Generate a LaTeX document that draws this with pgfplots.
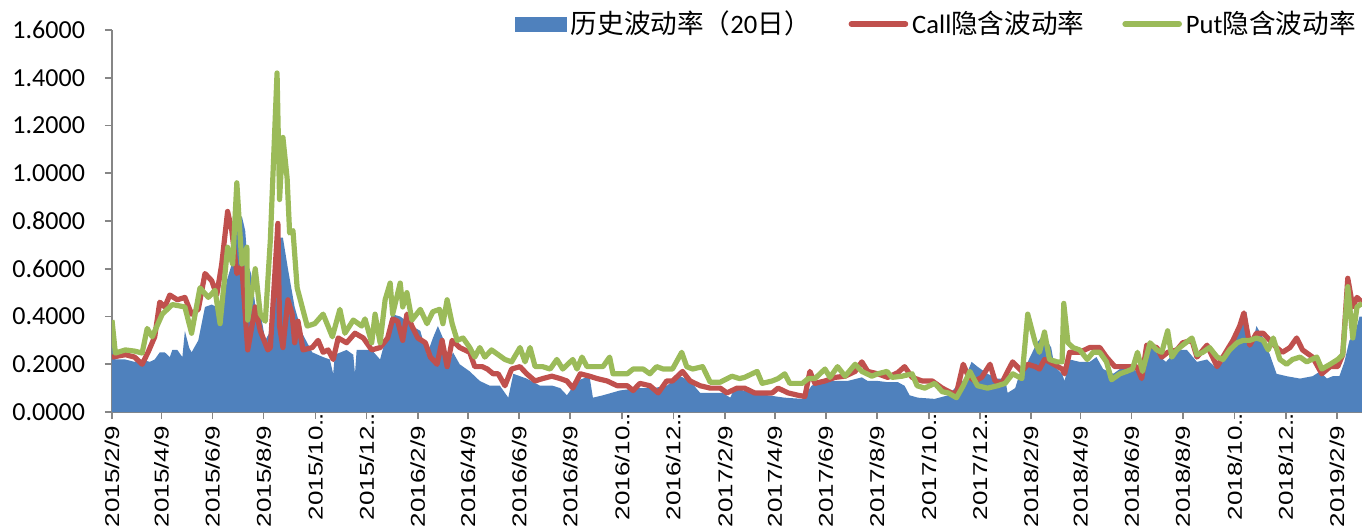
\documentclass[border=0pt]{standalone}
\usepackage{fontspec}
\setmainfont{Carlito}
\newfontfamily\cjk{Noto Sans CJK SC}
\newfontfamily\xfont[FakeStretch=1.3]{Liberation Sans}
\usepackage{pgfplots}
\pgfplotsset{compat=1.18}
\definecolor{hvcol}{HTML}{4F81BD}
\definecolor{callcol}{HTML}{C0504D}
\definecolor{putcol}{HTML}{9BBB59}
\definecolor{axcol}{HTML}{868686}
\newcommand{\el}{\rlap{.\kern-0.08em.\kern-0.08em.}}
\begin{document}
\begin{tikzpicture}
\begin{axis}[name=ax, scale only axis, width=625pt, height=191pt,
  xmin=0, xmax=1492, ymin=0, ymax=1.6,
  axis x line=bottom, axis y line=left,
  axis line style={-, axcol, line width=0.8pt},
  ytick={0,0.2,0.4,0.6,0.8,1.0,1.2,1.4,1.6},
  yticklabel style={font=\fontsize{13}{15}\selectfont, xshift=-6.5pt, /pgf/number format/.cd, fixed, fixed zerofill, precision=4, assume math mode=true},
  xtick={0,59,120,181,243,304,365,425,486,547,609,670,732,791,852,913,975,1036,1097,1156,1217,1278,1340,1401,1462},
  xticklabels={2015/2/9,2015/4/9,2015/6/9,2015/8/9,2015/10\el,2015/12\el,2016/2/9,2016/4/9,2016/6/9,2016/8/9,2016/10\el,2016/12\el,2017/2/9,2017/4/9,2017/6/9,2017/8/9,2017/10\el,2017/12\el,2018/2/9,2018/4/9,2018/6/9,2018/8/9,2018/10\el,2018/12\el,2019/2/9},
  xticklabel style={rotate=90, anchor=east, font=\xfont\fontsize{10}{12}\selectfont},
  tick align=outside, major tick length=3.5pt, tick style={axcol, line width=0.8pt},
  legend columns=3,
  legend style={at={(1,1)}, anchor=east, yshift=3pt, xshift=-1pt, draw=none, fill=none,
    font=\fontsize{13.3}{15}\selectfont, inner sep=0pt,
    /tikz/every even column/.append style={column sep=17pt},
    nodes={inner xsep=2pt}},
  legend cell align=left,
]
\addplot[fill=hvcol, draw=none, area legend,
  legend image code/.code={\fill[hvcol] (0pt,-3.75pt) rectangle (26pt,3.75pt);}] table {
0 0.28
4 0.22
16 0.22
27 0.21
36 0.22
45 0.21
51 0.22
57 0.25
63 0.25
69 0.23
72 0.26
78 0.26
84 0.23
87 0.34
92 0.27
95 0.25
103 0.30
111 0.44
119 0.45
125 0.44
131 0.40
137 0.55
143 0.62
149 0.79
155 0.82
159 0.76
162 0.62
166 0.58
171 0.45
177 0.42
183 0.30
189 0.34
195 0.73
204 0.73
210 0.60
218 0.44
227 0.33
239 0.25
252 0.23
260 0.22
264 0.16
266 0.24
280 0.26
288 0.24
290 0.16
292 0.26
310 0.26
320 0.22
326 0.30
334 0.41
344 0.40
352 0.38
358 0.36
368 0.34
376 0.24
383 0.31
389 0.36
395 0.31
401 0.19
407 0.25
415 0.20
427 0.17
439 0.13
451 0.11
463 0.11
473 0.06
479 0.16
495 0.14
511 0.11
526 0.11
535 0.10
543 0.07
555 0.13
562 0.14
570 0.15
574 0.06
586 0.07
606 0.09
627 0.10
646 0.10
662 0.11
678 0.15
690 0.13
702 0.08
717 0.08
729 0.08
738 0.06
743 0.10
764 0.08
783 0.07
803 0.06
824 0.055
835 0.11
847 0.13
863 0.13
878 0.13
895 0.145
902 0.13
914 0.13
926 0.125
938 0.125
946 0.11
952 0.07
962 0.06
982 0.055
998 0.07
1006 0.10
1018 0.14
1026 0.21
1033 0.19
1045 0.16
1057 0.14
1066 0.14
1069 0.08
1078 0.10
1086 0.19
1093 0.21
1104 0.29
1111 0.32
1116 0.30
1121 0.27
1125 0.19
1134 0.16
1137 0.13
1143 0.22
1155 0.21
1167 0.21
1175 0.23
1183 0.18
1195 0.16
1203 0.18
1215 0.19
1227 0.16
1239 0.28
1251 0.23
1258 0.21
1271 0.26
1283 0.26
1295 0.21
1307 0.22
1319 0.18
1331 0.23
1338 0.31
1346 0.38
1354 0.42
1360 0.27
1366 0.36
1374 0.31
1382 0.24
1390 0.16
1402 0.15
1418 0.14
1433 0.15
1442 0.17
1450 0.14
1457 0.15
1465 0.15
1471 0.21
1477 0.30
1483 0.32
1489 0.40
1492 0.40
} \closedcycle;
\addlegendentry{{\cjk 历史波动率（}20{\cjk 日）}}
\addplot[callcol, line width=2.6pt, line join=round,
  legend image code/.code={\draw[callcol, line width=2.8pt, line cap=round] (0pt,0pt) -- (27pt,0pt);}] table {
0 0.23
16 0.24
27 0.23
36 0.20
43 0.25
51 0.315
57 0.46
63 0.44
69 0.49
78 0.47
87 0.48
95 0.41
103 0.43
111 0.58
119 0.55
125 0.49
131 0.62
138 0.84
143 0.76
149 0.58
155 0.61
162 0.26
171 0.44
177 0.34
186 0.26
189 0.27
192 0.44
198 0.79
200 0.36
204 0.27
210 0.47
215 0.41
218 0.29
222 0.38
228 0.26
239 0.27
246 0.30
252 0.25
258 0.26
264 0.22
270 0.31
280 0.29
290 0.33
300 0.31
310 0.26
320 0.27
329 0.31
335 0.39
341 0.38
347 0.30
352 0.41
358 0.36
365 0.31
374 0.29
380 0.23
388 0.20
394 0.30
400 0.19
406 0.30
415 0.27
427 0.25
433 0.19
442 0.19
448 0.18
455 0.16
461 0.16
469 0.11
477 0.18
487 0.19
495 0.16
505 0.13
514 0.14
525 0.15
535 0.14
543 0.13
550 0.10
559 0.16
570 0.15
579 0.14
591 0.13
603 0.11
615 0.11
622 0.09
630 0.12
642 0.11
652 0.08
662 0.13
669 0.13
681 0.17
690 0.13
702 0.11
714 0.10
726 0.10
734 0.08
746 0.10
755 0.10
767 0.08
788 0.08
795 0.10
807 0.08
819 0.07
827 0.065
833 0.17
839 0.12
851 0.13
863 0.145
875 0.15
887 0.17
895 0.21
902 0.17
914 0.16
926 0.145
938 0.165
946 0.19
955 0.145
967 0.13
979 0.13
991 0.10
1002 0.08
1008 0.08
1016 0.20
1022 0.15
1030 0.13
1038 0.145
1048 0.20
1054 0.13
1062 0.12
1069 0.17
1075 0.21
1086 0.17
1093 0.20
1102 0.19
1107 0.18
1113 0.22
1119 0.21
1134 0.18
1137 0.16
1143 0.25
1155 0.25
1167 0.27
1179 0.27
1187 0.23
1197 0.19
1207 0.19
1216 0.19
1223 0.19
1229 0.14
1235 0.28
1247 0.27
1253 0.23
1260 0.25
1271 0.26
1278 0.29
1289 0.30
1295 0.23
1307 0.28
1319 0.19
1331 0.26
1338 0.30
1346 0.36
1351 0.415
1358 0.28
1366 0.33
1374 0.33
1382 0.30
1390 0.27
1397 0.25
1406 0.27
1414 0.31
1421 0.26
1433 0.23
1444 0.16
1454 0.19
1463 0.19
1469 0.24
1475 0.56
1481 0.44
1486 0.48
1492 0.46
};
\addlegendentry{Call{\cjk 隐含波动率}}
\addplot[putcol, line width=2.6pt, line join=round,
  legend image code/.code={\draw[putcol, line width=2.8pt, line cap=round] (0pt,0pt) -- (27pt,0pt);}] table {
0 0.385
4 0.247
16 0.26
27 0.255
36 0.247
42 0.35
48 0.315
60 0.41
72 0.45
87 0.44
95 0.33
105 0.52
115 0.48
123 0.51
129 0.37
138 0.69
144 0.62
149 0.96
155 0.62
161 0.69
162 0.385
171 0.60
177 0.41
183 0.38
189 0.72
197 1.42
200 0.89
204 1.15
209 0.98
212 0.75
216 0.76
221 0.52
227 0.44
233 0.36
242 0.37
252 0.41
263 0.315
272 0.43
278 0.33
288 0.385
298 0.36
302 0.39
310 0.29
314 0.41
320 0.29
326 0.47
332 0.54
335 0.41
344 0.54
347 0.44
352 0.50
358 0.385
368 0.43
376 0.37
383 0.42
391 0.43
395 0.37
400 0.47
406 0.37
412 0.30
419 0.31
427 0.27
433 0.23
439 0.27
445 0.23
453 0.26
461 0.24
469 0.22
477 0.21
487 0.27
493 0.21
499 0.27
505 0.19
514 0.19
523 0.18
531 0.22
538 0.18
550 0.22
555 0.18
561 0.23
567 0.19
579 0.19
586 0.19
594 0.23
598 0.16
615 0.16
622 0.18
634 0.18
642 0.16
650 0.19
658 0.18
669 0.18
680 0.25
686 0.19
693 0.18
705 0.19
714 0.125
726 0.125
740 0.15
749 0.14
755 0.145
770 0.17
776 0.12
788 0.13
795 0.14
803 0.16
809 0.12
824 0.12
831 0.14
839 0.14
851 0.18
857 0.145
866 0.19
875 0.15
887 0.20
895 0.17
907 0.15
914 0.16
925 0.17
931 0.145
943 0.15
955 0.16
961 0.11
970 0.10
982 0.12
991 0.085
998 0.08
1008 0.06
1016 0.11
1024 0.17
1033 0.11
1045 0.10
1057 0.11
1066 0.12
1075 0.16
1086 0.14
1093 0.41
1102 0.29
1107 0.25
1113 0.335
1119 0.22
1128 0.21
1134 0.21
1136 0.455
1141 0.29
1147 0.27
1155 0.26
1164 0.22
1171 0.25
1179 0.25
1187 0.21
1193 0.135
1203 0.16
1211 0.17
1218 0.18
1224 0.25
1230 0.17
1239 0.29
1247 0.26
1253 0.25
1260 0.34
1265 0.23
1271 0.26
1278 0.28
1289 0.31
1295 0.24
1302 0.25
1310 0.27
1319 0.23
1326 0.22
1334 0.26
1343 0.29
1350 0.30
1358 0.30
1366 0.31
1374 0.30
1380 0.26
1386 0.31
1394 0.22
1402 0.20
1409 0.22
1418 0.23
1426 0.21
1438 0.23
1444 0.18
1454 0.20
1463 0.22
1469 0.24
1475 0.525
1481 0.31
1486 0.44
1492 0.455
};
\addlegendentry{Put{\cjk 隐含波动率}}
\end{axis}
\pgfresetboundingbox
\path ([xshift=-56pt,yshift=-59.5pt]ax.south west) rectangle ([yshift=15pt]ax.north east);
\end{tikzpicture}
\end{document}
